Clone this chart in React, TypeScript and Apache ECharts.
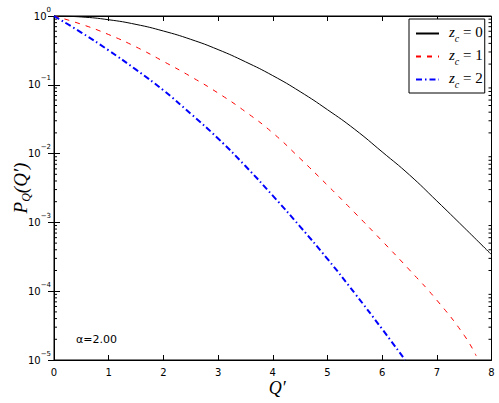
import React, { useEffect, useRef } from "react";
import * as echarts from "echarts";

const qValues = [0, 0.5, 1, 1.5, 2, 2.5, 3, 3.5, 4, 4.5, 5, 5.5, 6, 6.5, 7, 7.5, 8];
const z0Values = [1, 0.969, 0.882, 0.755, 0.605, 0.458, 0.325, 0.216, 0.136, 0.0796, 0.0435, 0.0225, 0.0106, 0.0049, 0.00205, 0.00084, 0.00034];

const qValuesZ1 = [0, 0.5, 1, 1.5, 2, 2.5, 3, 3.5, 4, 4.5, 5, 5.5, 6, 6.5, 7, 7.5, 7.72];
const z1Values = [1, 0.759, 0.537, 0.355, 0.219, 0.132, 0.0759, 0.0407, 0.02, 0.0085, 0.00347, 0.00138, 0.000537, 0.000204, 0.0000741, 0.0000229, 0.0000115];

const qValuesZ2 = [0, 0.5, 1, 1.5, 2, 2.5, 3, 3.5, 4, 4.5, 5, 5.5, 6, 6.42];
const z2Values = [1, 0.575, 0.316, 0.166, 0.0832, 0.038, 0.0166, 0.0066, 0.00245, 0.00087, 0.000295, 0.0000933, 0.0000282, 0.00001];

const seriesNames = ["z0", "z1", "z2"];
const legendLabels = ["0", "1", "2"];
const minorMultipliers = [2, 3, 4, 5, 6, 7, 8, 9];
const decades = [1e-5, 1e-4, 1e-3, 1e-2, 1e-1];
const alphaText = "α=2.00";

const zip = (xs: number[], ys: number[]) => xs.map((x, i) => [x, ys[i]]);

export default function App() {
  const ref = useRef<HTMLDivElement>(null);
  useEffect(() => {
    if (!ref.current) return;
    const chart = echarts.init(ref.current, undefined, { renderer: "svg" });
    const minorData: number[][] = [];
    decades.forEach((d) => minorMultipliers.forEach((m) => minorData.push([0, d * m])));
    const sans = "DejaVu Sans";
    const serif = "Liberation Serif";
    const yAxisCommon = {
      type: "log" as const,
      logBase: 10,
      min: 1e-5,
      max: 1,
      axisLine: { show: true, lineStyle: { color: "#000", width: 1 } },
      axisTick: { show: true, inside: true, length: 6, lineStyle: { color: "#000" } },
      splitLine: { show: false },
    };
    const xAxisCommon = {
      type: "value" as const,
      min: 0,
      max: 8,
      interval: 1,
      axisLine: { show: true, onZero: false, lineStyle: { color: "#000", width: 1 } },
      axisTick: { show: true, inside: true, length: 5, lineStyle: { color: "#000" } },
      splitLine: { show: false },
    };
    chart.setOption({
      animation: false,
      backgroundColor: "#fff",
      grid: {
        left: 54,
        right: 7.5,
        top: 16,
        bottom: 43,
        show: true,
        borderColor: "#000",
        borderWidth: 1,
        containLabel: false,
        outerBoundsMode: "none",
      },
      xAxis: [
        {
          ...xAxisCommon,
          position: "bottom",
          axisLabel: { fontFamily: sans, fontSize: 10, color: "#000", margin: 7 },
          name: "Q′",
          nameLocation: "middle",
          nameGap: 19,
          nameMoveOverlap: false,
          nameTextStyle: {
            fontFamily: serif,
            fontStyle: "italic",
            fontSize: 18,
            color: "#000",
            verticalAlign: "top",
            padding: [0, 0, 0, 9],
          },
        },
        { ...xAxisCommon, position: "top", axisLabel: { show: false } },
      ],
      yAxis: [
        {
          ...yAxisCommon,
          position: "left",
          axisLabel: {
            color: "#000",
            margin: 3,
            formatter: (v: number) => {
              const e = Math.round(Math.log10(v));
              const s = e < 0 ? "−" + -e : String(e);
              return `{b|10}{s|${s}}`;
            },
            rich: {
              b: { fontFamily: sans, fontSize: 10, color: "#000", lineHeight: 20, verticalAlign: "middle" },
              s: { fontFamily: sans, fontSize: 7, color: "#000", lineHeight: 20, verticalAlign: "top" },
            },
          },
          name: "{p|P}{q|Q}{r|(Q′)}",
          nameLocation: "middle",
          nameGap: 22,
          nameMoveOverlap: false,
          nameRotate: 90,
          nameTextStyle: {
            rich: {
              p: { fontFamily: serif, fontStyle: "italic", fontSize: 19, color: "#000", lineHeight: 24, verticalAlign: "middle" },
              q: { fontFamily: serif, fontStyle: "italic", fontSize: 12, color: "#000", lineHeight: 24, verticalAlign: "bottom" },
              r: { fontFamily: serif, fontStyle: "italic", fontSize: 19, color: "#000", lineHeight: 24, verticalAlign: "middle" },
            },
          },
        },
        { ...yAxisCommon, position: "right", axisLabel: { show: false } },
      ],
      legend: {
        orient: "vertical",
        left: 409,
        top: 19,
        data: seriesNames,
        backgroundColor: "#fff",
        borderColor: "#000",
        borderWidth: 1,
        borderRadius: 0,
        padding: [5, 2, 4, 6],
        itemWidth: 23,
        itemHeight: 10,
        itemGap: 4,
        selectedMode: false,
        itemStyle: { opacity: 0, borderWidth: 0 },
        formatter: (name: string) => {
          const i = seriesNames.indexOf(name);
          return `{z|z}{c|c}{e| = ${legendLabels[i]}}`;
        },
        textStyle: {
          rich: {
            z: { fontFamily: serif, fontStyle: "italic", fontSize: 15, color: "#000", lineHeight: 19, verticalAlign: "top", padding: [0, 0, 0, 5] },
            c: { fontFamily: serif, fontStyle: "italic", fontSize: 10, color: "#000", lineHeight: 19, verticalAlign: "bottom" },
            e: { fontFamily: serif, fontSize: 15, color: "#000", lineHeight: 19, verticalAlign: "top" },
          },
        },
      },
      graphic: [
        {
          type: "text",
          left: 76,
          top: 334,
          style: { text: alphaText, fontFamily: sans, fontSize: 11, fill: "#000" },
        },
      ],
      series: [
        {
          name: seriesNames[0],
          type: "line",
          data: zip(qValues, z0Values),
          showSymbol: false,
          symbol: "none",
          smooth: 0.5,
          lineStyle: { color: "#000", width: 1, type: "solid" },
          itemStyle: { color: "#000" },
        },
        {
          name: seriesNames[1],
          type: "line",
          data: zip(qValuesZ1, z1Values),
          showSymbol: false,
          symbol: "none",
          smooth: 0.5,
          lineStyle: { color: "#ff0000", width: 1, type: [5, 6] },
          itemStyle: { color: "#ff0000" },
        },
        {
          name: seriesNames[2],
          type: "line",
          data: zip(qValuesZ2, z2Values),
          showSymbol: false,
          symbol: "none",
          smooth: 0.5,
          lineStyle: { color: "#0000ff", width: 2, type: [6, 3, 1.5, 3] },
          itemStyle: { color: "#0000ff" },
        },
        {
          type: "custom",
          silent: true,
          xAxisIndex: 0,
          yAxisIndex: 0,
          data: minorData,
          encode: { x: 0, y: 1 },
          renderItem: (_params: any, api: any) => {
            const v = api.value(1);
            const l = api.coord([0, v]);
            const r = api.coord([8, v]);
            const st = { stroke: "#000", lineWidth: 1 };
            return {
              type: "group",
              children: [
                { type: "line", shape: { x1: l[0], y1: l[1], x2: l[0] + 3, y2: l[1] }, style: st },
                { type: "line", shape: { x1: r[0], y1: r[1], x2: r[0] - 3, y2: r[1] }, style: st },
              ],
            };
          },
        },
      ],
    });
    return () => chart.dispose();
  }, []);
  return <div ref={ref} style={{ position: "absolute", left: 0, top: 0, width: 499, height: 403 }} />;
}
